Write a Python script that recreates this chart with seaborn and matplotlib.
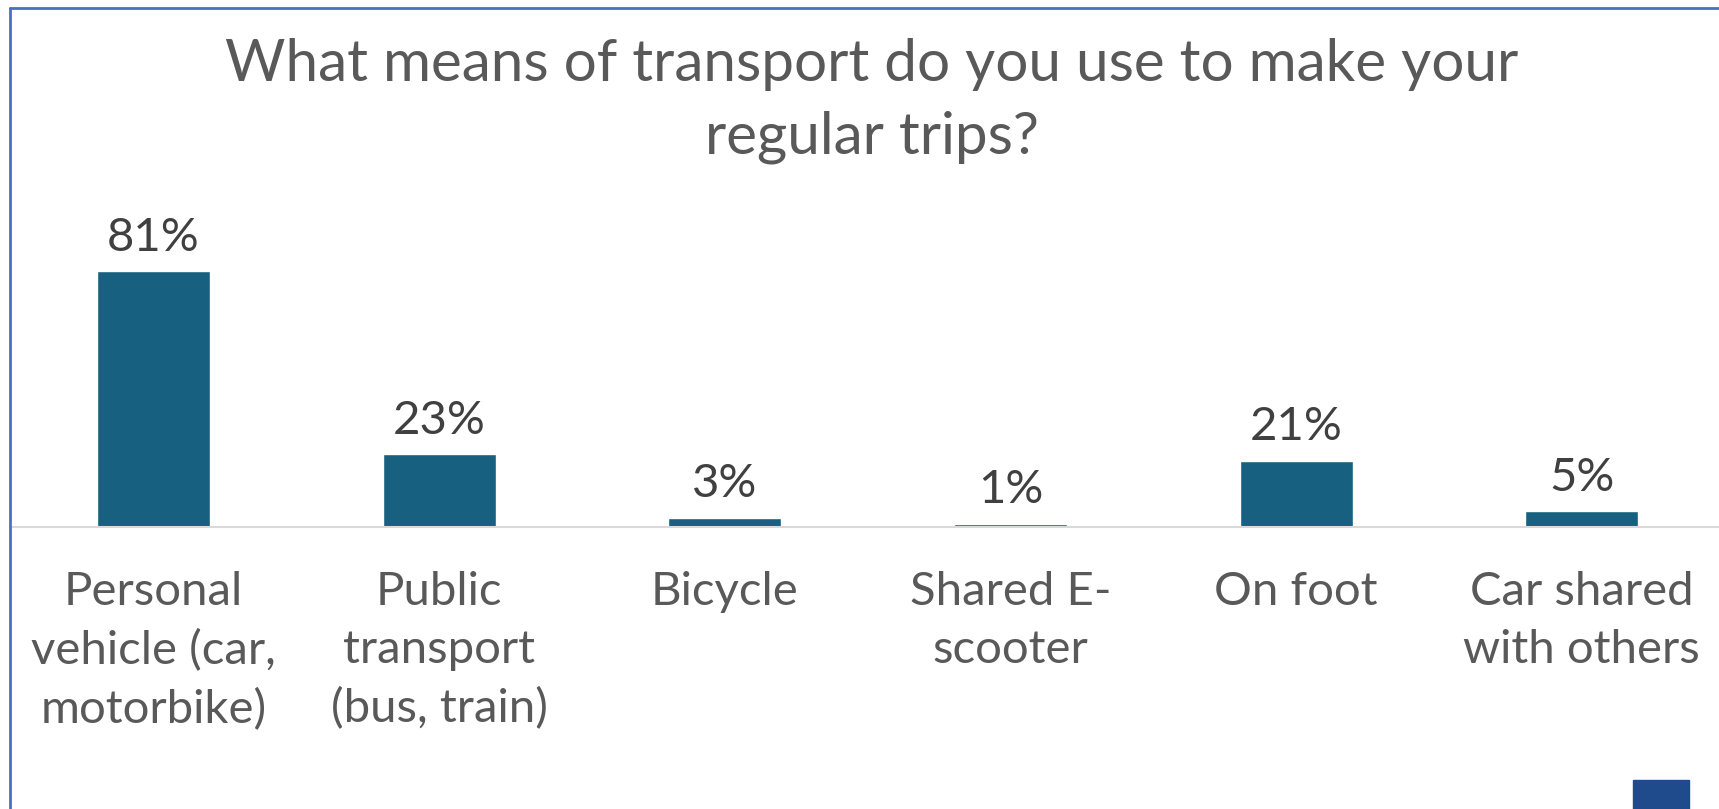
import matplotlib
matplotlib.use("Agg")
import matplotlib.pyplot as plt
import seaborn as sns
import pandas as pd
from matplotlib.patches import Rectangle

# chart data
categories = [
    "Personal\nvehicle (car,\nmotorbike)",
    "Public\ntransport\n(bus, train)",
    "Bicycle",
    "Shared E-\nscooter",
    "On foot",
    "Car shared\nwith others",
]
shares = [81, 23, 3, 1, 21, 5]
title = "What means of transport do you use to make your\nregular trips?"

bar_color = "#17607F"
text_gray = "#595959"
label_gray = "#404040"

sns.set_theme(style="white")
plt.rcParams["font.family"] = ["Lato", "DejaVu Sans"]

df = pd.DataFrame({"category": categories, "share": shares})

fig = plt.figure(figsize=(17.19, 8.09), dpi=100)
ax = fig.add_axes([10 / 1719, 1 - 527 / 809, 1 - 10 / 1719, 327 / 809])

sns.barplot(data=df, x="category", y="share", color=bar_color,
            width=0.395, saturation=1, ax=ax)

ax.set_ylim(0, 103.5)
ax.set_xlim(-0.502, 5.48)
ax.set_xlabel("")
ax.set_ylabel("")
ax.set_yticks([])
for side in ["top", "left", "right"]:
    ax.spines[side].set_visible(False)
ax.spines["bottom"].set_color("#D9D9D9")
ax.spines["bottom"].set_linewidth(1.5)

ax.tick_params(axis="x", length=0, pad=32, labelsize=34, labelcolor=text_gray)
for lbl in ax.get_xticklabels():
    lbl.set_linespacing(1.46)

for i, v in enumerate(shares):
    ax.annotate(f"{v}%", (i, v), xytext=(0, 9), textcoords="offset points",
                ha="center", va="bottom", fontsize=34, color=label_gray)

fig.text(872 / 1719, 1 - 38 / 809, title, ha="center", va="top",
         fontsize=42, color=text_gray, linespacing=1.45)

# outer frame (cropped on the right and bottom)
fig.add_artist(plt.Line2D([10 / 1719, 10 / 1719], [0, 1 - 8 / 809],
                          color="#4472C4", lw=2, transform=fig.transFigure))
fig.add_artist(plt.Line2D([10 / 1719, 1], [1 - 8 / 809, 1 - 8 / 809],
                          color="#4472C4", lw=2, transform=fig.transFigure))

# small flag corner of the logo
fig.add_artist(Rectangle((1633 / 1719, 0), 56 / 1719, 29 / 809,
                         color="#1F4A8C", transform=fig.transFigure))

fig.savefig("out.png", dpi=100)
